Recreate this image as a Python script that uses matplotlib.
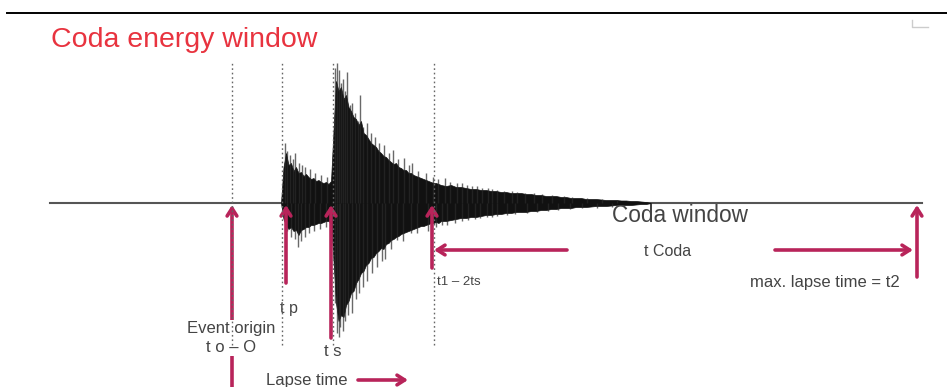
import matplotlib.pyplot as plt
from matplotlib.lines import Line2D

# time in seconds after the event origin, amplitude in trace units
T_START, T_END = -18.2, 69.0
T_ORIGIN, T_P, T_S, T_1, T_2 = 0.0, 5.0, 10.1, 20.2, 68.5

# envelope of the black body of the seismogram
env_t = [4.9, 5.15, 5.4, 5.65, 5.9, 6.15, 6.4, 6.65, 6.9, 7.15, 7.4, 7.65, 7.9,
         8.15, 8.4, 8.65, 8.9, 9.15, 9.4, 9.65, 9.9, 10.15, 10.4, 10.65, 10.9,
         11.15, 11.4, 11.65, 11.9, 12.15, 12.4, 12.65, 12.9, 13.15, 13.4, 13.65,
         13.9, 14.15, 14.4, 14.65, 14.9, 15.15, 15.4, 15.65, 15.9, 16.15, 16.4,
         16.65, 16.9, 17.15, 17.4, 17.65, 17.9, 18.15, 18.4, 18.65, 18.9, 19.15,
         19.4, 19.65, 19.9, 20.15, 20.4, 20.65, 20.9,
         21.4, 21.9, 22.4, 22.9, 23.4, 23.9, 24.4, 24.9, 25.4, 25.9, 26.4, 26.9,
         27.4, 27.9, 28.4, 28.9, 29.4, 29.9, 30.4, 30.9, 31.4, 31.9, 32.4, 32.9,
         33.4, 33.9, 34.4, 34.9, 35.4, 35.9, 36.4, 36.9, 37.4, 37.9, 38.4, 38.9,
         39.4, 39.9, 40.4, 40.9, 41.4, 41.9]
env_up = [0, 36, 50, 38, 40, 32, 36, 30, 31, 27, 29, 26, 24,
          25, 22, 23, 21, 20, 21, 19, 22, 72, 122, 112, 116,
          104, 108, 96, 92, 86, 84, 78, 82, 70, 68, 64,
          60, 58, 56, 52, 50, 47, 46, 43, 41, 39, 40,
          36, 35, 33, 33, 30, 30, 28, 27, 26, 25, 24,
          23, 22, 21, 20, 20, 19, 18,
          17, 18, 16, 16, 15, 14, 14, 13, 13, 12, 12, 11,
          11, 10, 10, 10, 9, 9, 8, 8, 7, 7, 7, 6,
          6, 5, 5, 5, 4, 4, 4, 3.5, 3, 3, 3, 2.5,
          2.5, 2, 2, 1.5, 1, 0]
env_dn = [0, 16, 22, 26, 24, 28, 27, 32, 27, 26, 24, 24, 22,
          22, 21, 20, 20, 19, 18, 18, 20, 58, 100, 118, 112,
          114, 102, 98, 90, 88, 80, 76, 70, 68, 62, 60,
          55, 54, 50, 48, 45, 46, 41, 40, 37, 36, 34,
          33, 31, 30, 29, 28, 27, 26, 25, 24, 23, 23,
          22, 21, 20, 20, 19, 20, 18,
          18, 17, 16, 15, 15, 14, 14, 13, 12, 12, 11, 11,
          10, 10, 9, 9, 9, 8, 8, 7, 7, 6, 6, 5,
          5, 5, 4, 4, 4, 3.5, 3, 3, 3, 2.5, 2, 2,
          2, 2, 1.5, 1, 1, 0]

# single wiggles standing out of the body
spk_up_t = [5.3, 5.5, 5.8, 6.1, 6.3, 6.7, 7.0, 7.3, 7.8, 8.3, 8.9, 9.5,
            10.3, 10.45, 10.7, 10.85, 11.05, 11.3, 11.5, 11.75, 12.0, 12.3,
            12.55, 12.8, 13.1, 13.5, 13.9, 14.3, 14.7, 15.2, 15.7, 16.1, 16.6,
            17.2, 17.7, 18.0, 18.6, 19.4, 20.1, 20.6, 21.3, 21.8, 22.5, 23.0,
            23.5, 24.0, 24.5, 25.0, 25.6, 26.0, 26.5, 27.2, 28.0, 28.5, 29.3,
            30.2, 31.0, 32.0, 33.2, 34.0, 35.5, 37.0, 38.5]
spk_up = [60, 52, 48, 44, 50, 40, 38, 36, 34, 30, 28, 26,
          135, 140, 133, 120, 124, 112, 131, 98, 100, 90,
          82, 108, 76, 80, 70, 66, 60, 58, 50, 53, 44,
          45, 38, 40, 32, 30, 26, 24, 25, 21, 20, 20,
          18, 17, 17, 15, 15, 14, 13, 12, 12, 11, 10,
          10, 9, 8, 7, 6, 5, 4.5, 3.5]
spk_dn_t = [5.5, 5.9, 6.3, 6.6, 6.9, 7.3, 7.7, 8.2, 8.8, 9.4,
            10.3, 10.5, 10.65, 10.8, 11.1, 11.3, 11.6, 12.0, 12.4, 12.7, 13.1,
            13.5, 14.0, 14.5, 15.0, 15.3, 15.9, 16.5, 17.1, 17.9, 18.5, 19.6,
            20.4, 21.0, 21.5, 22.3, 23.0, 23.6, 24.3, 24.8, 25.5, 26.0, 26.5,
            27.5, 28.3, 29.5, 30.5, 31.6, 32.6, 33.8, 35.0, 36.5, 38.0]
spk_dn = [28, 34, 36, 44, 38, 34, 30, 28, 26, 24,
          100, 130, 134, 124, 128, 118, 112, 110, 96, 90, 84,
          78, 70, 64, 58, 56, 46, 37, 38, 30, 30, 28,
          24, 22, 22, 20, 18, 17, 16, 15, 14, 14, 13,
          12, 11, 10, 9, 8, 7, 6, 5, 4.5, 3.5]

RED = "#b8245a"
TXT = "#444444"

plt.rcParams["font.family"] = ["Liberation Sans", "DejaVu Sans"]

fig = plt.figure(figsize=(9.47, 3.87), dpi=100)
ax = fig.add_axes([0, 0, 1, 1])
ax.set_xlim(-23.2, 71.5)
ax.set_ylim(-184, 203)
ax.axis("off")

# rule across the top and the small corner mark
fig.add_artist(Line2D([0.007, 1.0], [0.966, 0.966], color="black", lw=1.4))
fig.add_artist(Line2D([0.963, 0.963, 0.98], [0.948, 0.93, 0.93],
                      color="#cccccc", lw=1.0))

fig.text(0.054, 0.897, "Coda energy window", color="#e8333f", fontsize=20.5,
         va="center", ha="left")

# trace
ax.plot([T_START, T_END], [0, 0], color="#555555", lw=1.5, zorder=2)
ax.fill_between(env_t, env_up, [-v for v in env_dn], color="#111111",
                lw=0.5, edgecolor="#111111", zorder=3)
ax.vlines(spk_up_t, 0, spk_up, color="#2a2a2a", lw=1.0, alpha=0.7, zorder=3)
ax.vlines(spk_dn_t, [-v for v in spk_dn], 0, color="#2a2a2a", lw=1.0,
          alpha=0.7, zorder=3)

# dotted time markers
for t in [T_ORIGIN, T_P, T_S, T_1]:
    ax.plot([t, t], [-142, 141], color="#666666", lw=1.0,
            linestyle=(0, (1.2, 2.0)), zorder=6)

arrow = dict(arrowstyle="->,head_length=0.55,head_width=0.35", color=RED,
             lw=2.6, shrinkA=0, shrinkB=0)


def up_arrow(t, bottom):
    ax.annotate("", xy=(t, -2), xytext=(t, bottom), arrowprops=arrow, zorder=4)


up_arrow(T_ORIGIN, -184)
up_arrow(T_P + 0.4, -80)
up_arrow(T_S - 0.2, -135)
up_arrow(T_1 - 0.2, -65)
up_arrow(T_2, -74)

ax.annotate("", xy=(T_1, -47), xytext=(33.5, -47), arrowprops=arrow)
ax.annotate("", xy=(68.1, -47), xytext=(54.3, -47), arrowprops=arrow)
ax.annotate("", xy=(17.6, -177), xytext=(12.6, -177), arrowprops=arrow)

# labels
ax.text(44.8, -13, "Coda window", fontsize=16.3, color=TXT, ha="center", va="center")
ax.text(43.6, -49, "t Coda", fontsize=11.5, color=TXT, ha="center", va="center")
ax.text(T_1 + 0.3, -79, "t1 \u2013 2ts", fontsize=9.5, color=TXT, ha="left", va="center")
ax.text(59.3, -80, "max. lapse time = t2", fontsize=12, color=TXT,
        ha="center", va="center")
ax.text(T_P - 0.2, -105, "t p", fontsize=11.5, color=TXT, ha="left", va="center")
ax.text(T_S, -149, "t s", fontsize=12, color=TXT, ha="center", va="center")
ax.text(-0.1, -135, "Event origin\nt o \u2013 O", fontsize=12, color=TXT,
        ha="center", va="center", linespacing=1.25, zorder=5,
        bbox=dict(facecolor="white", edgecolor="none", pad=1.0))
ax.text(7.5, -177, "Lapse time", fontsize=12, color=TXT, ha="center", va="center")

fig.savefig("out.png", dpi=100, facecolor="white")
